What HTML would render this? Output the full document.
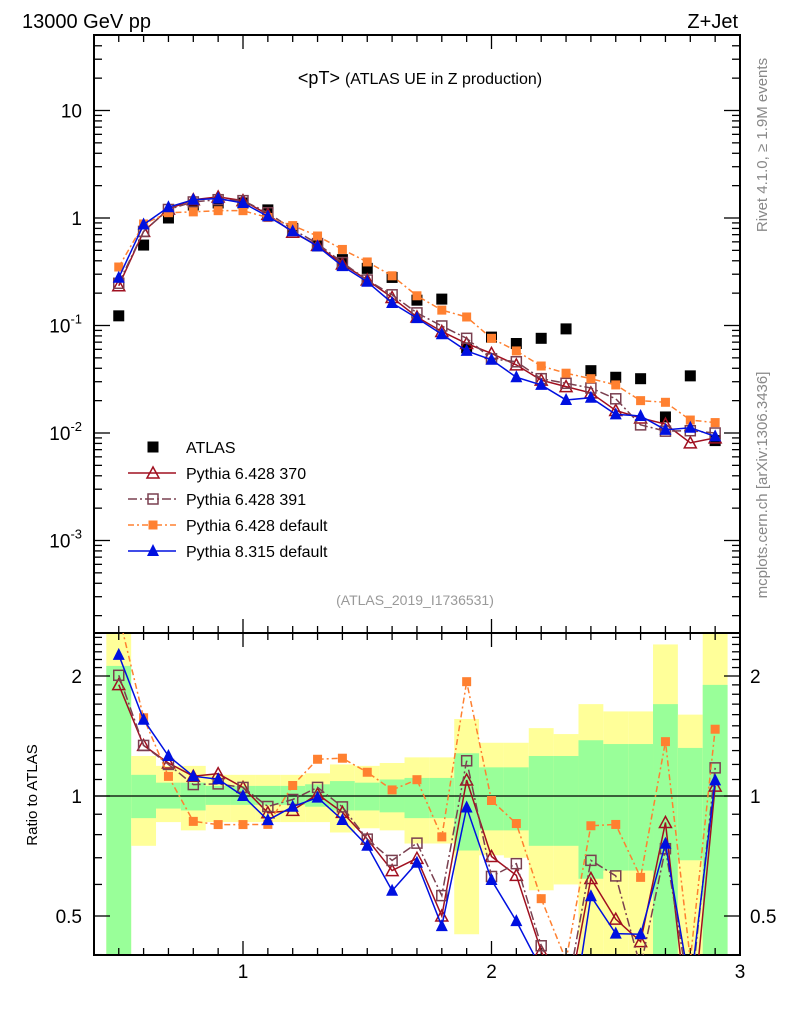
<!DOCTYPE html>
<html><head><meta charset="utf-8">
<style>
html,body{margin:0;padding:0;background:#fff;}
svg{display:block;font-family:"Liberation Sans",sans-serif;}
</style></head>
<body>
<svg id="chart" width="786" height="1024" viewBox="0 0 786 1024" xmlns="http://www.w3.org/2000/svg">
<text x="22" y="28" font-size="20">13000 GeV pp</text>
<text x="738" y="28" font-size="20" text-anchor="end">Z+Jet</text>
<text x="420" y="84" font-size="18" text-anchor="middle">&lt;pT&gt; <tspan font-size="16">(ATLAS UE in Z production)</tspan></text>
<text x="415" y="605" font-size="14" fill="#999" text-anchor="middle">(ATLAS_2019_I1736531)</text>
<text transform="translate(767,145) rotate(-90)" font-size="15" fill="#888" text-anchor="middle">Rivet 4.1.0, ≥ 1.9M events</text>
<text transform="translate(767,485) rotate(-90)" font-size="15" fill="#888" text-anchor="middle">mcplots.cern.ch [arXiv:1306.3436]</text>
<text transform="translate(37,795) rotate(-90)" font-size="15" text-anchor="middle">Ratio to ATLAS</text>
<g id="bands"></g>
<g id="axes"></g>
<g id="series"></g>
<g id="legend"></g>
</svg>
<script>
const xs=[0.5,0.6,0.7,0.8,0.9,1.0,1.1,1.2,1.3,1.4,1.5,1.6,1.7,1.8,1.9,2.0,2.1,2.2,2.3,2.4,2.5,2.6,2.7,2.8,2.9];
const atlas=[0.123,0.56,1.0,1.32,1.38,1.38,1.19,0.80,0.55,0.41,0.34,0.28,0.172,0.176,0.062,0.078,0.068,0.076,0.093,0.038,0.033,0.032,0.0141,0.034,0.0085];
const py370=[0.234,0.75,1.21,1.48,1.57,1.45,1.08,0.736,0.556,0.373,0.265,0.182,0.120,0.088,0.068,0.055,0.043,0.031,0.027,0.0236,0.0162,0.0138,0.0121,0.0081,0.009];
const py391=[0.247,0.75,1.20,1.41,1.48,1.45,1.12,0.784,0.578,0.385,0.265,0.193,0.131,0.099,0.076,0.049,0.046,0.032,0.029,0.0262,0.0208,0.0119,0.0104,0.0105,0.0100];
const pydef=[0.35,0.88,1.12,1.14,1.17,1.17,1.01,0.85,0.68,0.51,0.39,0.29,0.189,0.139,0.120,0.076,0.058,0.042,0.036,0.032,0.028,0.020,0.0193,0.0132,0.0125];
const py8=[0.278,0.87,1.26,1.48,1.52,1.38,1.035,0.752,0.545,0.357,0.255,0.162,0.117,0.083,0.058,0.048,0.033,0.028,0.0203,0.0213,0.0149,0.0144,0.0107,0.0112,0.0093];
const greenLo=[0.3,0.88,0.93,0.92,0.95,0.95,0.95,0.95,0.94,0.92,0.92,0.91,0.88,0.88,0.73,0.82,0.82,0.75,0.75,0.62,0.65,0.65,0.3,0.69,0.3];
const greenHi=[2.12,1.13,1.08,1.08,1.06,1.06,1.06,1.06,1.07,1.09,1.08,1.1,1.11,1.11,1.28,1.18,1.18,1.26,1.26,1.38,1.35,1.35,1.7,1.32,1.9];
const yelLo=[0.3,0.75,0.86,0.82,0.86,0.86,0.86,0.86,0.86,0.81,0.83,0.82,0.76,0.76,0.45,0.71,0.7,0.58,0.6,0.3,0.3,0.3,0.3,0.3,0.3];
const yelHi=[3,1.26,1.19,1.19,1.13,1.13,1.13,1.13,1.14,1.2,1.19,1.21,1.25,1.25,1.56,1.36,1.36,1.48,1.43,1.7,1.63,1.63,2.4,1.6,3];
const mainTicks=["10","1","10^-1","10^-2","10^-3"];
const ratioTicks=[2,1,0.5];
const xTicks=[1,2,3];

const NS="http://www.w3.org/2000/svg";
const L=94,R=740,T=35,MB=633,B=955;
const X=x=>243+(x-1)*248.5;
const Y=v=>218-Math.log10(v)*107.5;
const RY=r=>796-Math.log2(r)*120;
function mk(tag,attrs,parent){const e=document.createElementNS(NS,tag);for(const k in attrs)e.setAttribute(k,attrs[k]);parent.appendChild(e);return e;}
const bands=document.getElementById('bands'),axes=document.getElementById('axes'),ser=document.getElementById('series'),leg=document.getElementById('legend');
const clampR=r=>Math.max(T,Math.min(B,r));
// bands
xs.forEach((x,i)=>{
  const x0=X(x-0.05),x1=X(x+0.05);
  const y1=Math.max(MB,RY(yelHi[i])),y2=Math.min(B,RY(yelLo[i]));
  const r1=mk('rect',{x:x0,y:y1,width:x1-x0,height:y2-y1,fill:'#ffff99'},bands);
  
  
  const g1=Math.max(MB,RY(greenHi[i])),g2=Math.min(B,RY(greenLo[i]));
  const r2=mk('rect',{x:x0,y:g1,width:x1-x0,height:g2-g1,fill:'#99ff99'},bands);
  
  
});
// frames
[[T,MB],[MB,B]].forEach(([a,b])=>{const f=mk('rect',{x:L,y:a,width:R-L,height:b-a,fill:'none',stroke:'#000','stroke-width':2},axes);});
mk('line',{x1:L,x2:R,y1:RY(1),y2:RY(1),stroke:'#000','stroke-width':1.3},axes);
// x ticks
for(let k=4;k<=30;k++){const x=k/10,px=X(x);const big=k%10==0;const len=big?14:7;
  [[T,T+len],[MB,MB-len],[MB,MB+len],[B,B-len]].forEach(([a,b])=>mk('line',{x1:px,x2:px,y1:a,y2:b,stroke:'#000','stroke-width':1.3},axes));}
xTicks.forEach(t=>{const tx=mk('text',{x:X(t),y:978,'font-size':19,'text-anchor':'middle'},axes);tx.textContent=t;});
// main y ticks
for(let e=-4;e<=1;e++){for(let m=1;m<=9;m++){const v=m*Math.pow(10,e);const py=Y(v);if(py<T||py>MB)continue;const len=m==1?16:8;
  mk('line',{x1:L,x2:L+len,y1:py,y2:py,stroke:'#000','stroke-width':1.3},axes);mk('line',{x1:R,x2:R-len,y1:py,y2:py,stroke:'#000','stroke-width':1.3},axes);}}
mainTicks.forEach((lab,i)=>{const py=Y(Math.pow(10,1-i));const tx=mk('text',{x:82,y:py+7,'font-size':19,'text-anchor':'end'},axes);
  
  if(lab.includes('^')){const p=lab.split('^');tx.textContent=p[0];const s=mk('tspan',{dy:-9,'font-size':13},tx);s.textContent=p[1];}else tx.textContent=lab;});
// ratio ticks
for(let k=4;k<=25;k++){const r=k/10;const py=RY(r);if(py<MB||py>B)continue;const big=(k==5||k==10||k==20);const len=big?16:8;
  mk('line',{x1:L,x2:L+len,y1:py,y2:py,stroke:'#000','stroke-width':1.3},axes);mk('line',{x1:R,x2:R-len,y1:py,y2:py,stroke:'#000','stroke-width':1.3},axes);}
ratioTicks.forEach(r=>{[[82,'end'],[750,'start']].forEach(([x,a])=>{const tx=mk('text',{x:x,y:RY(r)+7,'font-size':19,'text-anchor':a},axes);tx.textContent=r;});});
// markers
function marker(type,color,px,py,par){
  if(type=='sq')return mk('rect',{x:px-5.5,y:py-5.5,width:11,height:11,fill:'#000'},par);
  if(type=='osq')return mk('rect',{x:px-5,y:py-5,width:10,height:10,fill:'none',stroke:color,'stroke-width':1.5},par);
  if(type=='fsq')return mk('rect',{x:px-4.5,y:py-4.5,width:9,height:9,fill:color},par);
  if(type=='otri')return mk('polygon',{points:`${px},${py-6} ${px-6},${py+5} ${px+6},${py+5}`,fill:'none',stroke:color,'stroke-width':1.5},par);
  if(type=='ftri')return mk('polygon',{points:`${px},${py-7} ${px-6},${py+5} ${px+6},${py+5}`,fill:color},par);
}
const defs=[
  {name:'pythia-6-428-370',data:py370,color:'#a01020',type:'otri',dash:'',label:'Pythia 6.428 370'},
  {name:'pythia-6-428-391',data:py391,color:'#7a4050',type:'osq',dash:'9,3,2,3',label:'Pythia 6.428 391'},
  {name:'pythia-6-428-default',data:pydef,color:'#ff8030',type:'fsq',dash:'6,3,2,3',label:'Pythia 6.428 default'},
  {name:'pythia-8-315-default',data:py8,color:'#0010e0',type:'ftri',dash:'',label:'Pythia 8.315 default'}];
const cl=mk('clipPath',{id:'cm'},ser);mk('rect',{x:L,y:T,width:R-L,height:MB-T},cl);
const cr=mk('clipPath',{id:'cr'},ser);mk('rect',{x:L,y:MB,width:R-L,height:B-MB},cr);
const gm=mk('g',{'clip-path':'url(#cm)'},ser),gr=mk('g',{'clip-path':'url(#cr)'},ser);
// atlas data
xs.forEach((x,i)=>{const m=marker('sq','#000',X(x),Y(atlas[i]),gm);});
defs.forEach(d=>{
  const pm=xs.map((x,i)=>X(x)+','+Y(d.data[i])).join(' ');
  const l1=mk('polyline',{points:pm,fill:'none',stroke:d.color,'stroke-width':1.5,'stroke-dasharray':d.dash},gm);
  
  
  const pr=xs.map((x,i)=>X(x)+','+RY(d.data[i]/atlas[i])).join(' ');
  const l2=mk('polyline',{points:pr,fill:'none',stroke:d.color,'stroke-width':1.5,'stroke-dasharray':d.dash},gr);
  
  
  xs.forEach((x,i)=>{
    const a=marker(d.type,d.color,X(x),Y(d.data[i]),gm);
    
    
    const b=marker(d.type,d.color,X(x),RY(d.data[i]/atlas[i]),gr);
    
    
  });
});
// legend
const ly0=447;
const e0=mk('g',{},leg);
marker('sq','#000',153,ly0,e0);
const t0=mk('text',{x:186,y:ly0+6,'font-size':16},e0);t0.textContent='ATLAS';
defs.forEach((d,i)=>{const y=ly0+26*(i+1);const g=mk('g',{},leg);
  
  
  mk('line',{x1:128,x2:176,y1:y,y2:y,stroke:d.color,'stroke-width':1.5,'stroke-dasharray':d.dash},g);
  marker(d.type,d.color,153,y,g);
  const t=mk('text',{x:186,y:y+6,'font-size':16},g);t.textContent=d.label;});
</script>
</body></html>
